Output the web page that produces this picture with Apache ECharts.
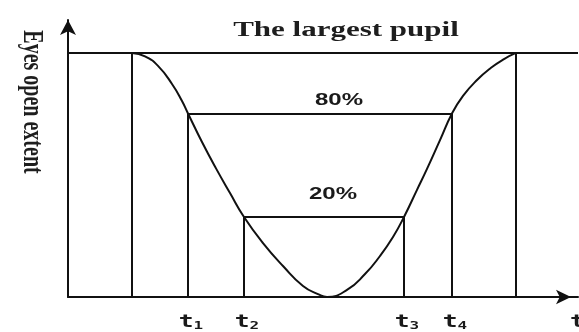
<!DOCTYPE html>
<html>
<head>
<meta charset="utf-8">
<title>Eyes open extent over one blink</title>
<script src="https://cdn.jsdelivr.net/npm/echarts@6/dist/echarts.min.js"></script>
<style>
  html, body { margin: 0; padding: 0; background: #ffffff; }
  #chart { width: 579px; height: 332px; }
</style>
</head>
<body>
<div id="chart"></div>
<script>
// Eye opening during one blink (time in arbitrary units, extent in % of the largest pupil)
const curveTime   = [64, 77, 90, 104, 114, 120, 134, 148, 162, 176, 195, 215, 235, 250, 259,
                     279, 297, 312, 325, 336, 349, 359, 372, 384, 395, 409, 423, 436, 448];
const curveExtent = [100, 98.6, 94.7, 87.3, 80.3, 75.2, 63.5, 52.7, 42.6, 32.8, 22.1, 12.7, 4.5, 1.2, 0,
                     2.9, 9.4, 16.8, 24.6, 32.8, 43.9, 52.5, 64.3, 75.2, 82.4, 88.9, 93.9, 97.5, 100];

// Moments where the eye is fully open (start and end of the blink)
const openTimes = [64, 448];
const peakExtent = 100;

// Threshold crossings
const tickNames = ['t1', 't2', 't3', 't4'];
const tickTimes = [120, 176, 336, 384];

// Threshold levels
const levelNames  = ['80%', '20%'];
const levelValues = [75.2, 32.8];

const titleText = 'The largest pupil';
const yName = 'Eyes open extent';
const xName = 't';

const xMax = 510;
const yMax = 113.5;
const ink = '#111111';

// Guide segments built from the named values above
const seg = (a, b) => [{ coord: a }, { coord: b }];
const guides = [
  seg([0, peakExtent], [xMax, peakExtent]),
  seg([openTimes[0], 0], [openTimes[0], peakExtent]),
  seg([openTimes[1], 0], [openTimes[1], peakExtent]),
  seg([tickTimes[0], levelValues[0]], [tickTimes[3], levelValues[0]]),
  seg([tickTimes[0], 0], [tickTimes[0], levelValues[0]]),
  seg([tickTimes[3], 0], [tickTimes[3], levelValues[0]]),
  seg([tickTimes[1], levelValues[1]], [tickTimes[2], levelValues[1]]),
  seg([tickTimes[1], 0], [tickTimes[1], levelValues[1]]),
  seg([tickTimes[2], 0], [tickTimes[2], levelValues[1]])
];

// Span of each level line (used to centre its label)
const levelSpans = [[tickTimes[0], tickTimes[3]], [tickTimes[1], tickTimes[2]]];

const chart = echarts.init(document.getElementById('chart'), null, { renderer: 'canvas' });

chart.setOption({
  animation: false,
  backgroundColor: '#ffffff',
  grid: { left: 68, right: 1, top: 20, bottom: 35 },
  xAxis: {
    type: 'value', min: 0, max: xMax,
    axisLine: { show: true, onZero: false, symbol: ['none', 'arrow'], symbolSize: [11, 15], symbolOffset: [0, -7],
                lineStyle: { color: ink, width: 2 } },
    axisTick: { show: false }, axisLabel: { show: false }, splitLine: { show: false }
  },
  yAxis: {
    type: 'value', min: 0, max: yMax,
    axisLine: { show: true, onZero: false, symbol: ['none', 'arrow'], symbolSize: [12, 15],
                lineStyle: { color: ink, width: 2 } },
    axisTick: { show: false }, axisLabel: { show: false }, splitLine: { show: false }
  },
  graphic: [
    {
      type: 'text', x: 346, y: 31, scaleX: 1.55, silent: true,
      style: { text: titleText, font: 'bold 20px "Liberation Serif"', fill: '#1e1e1e',
               align: 'center', verticalAlign: 'middle' }
    },
    {
      type: 'text', x: 31, y: 102, rotation: -Math.PI / 2, scaleY: 1.45, silent: true,
      style: { text: yName, font: 'bold 20px "Liberation Serif"', fill: '#1e1e1e',
               align: 'center', verticalAlign: 'middle' }
    }
  ],
  series: [
    {
      type: 'line', name: 'extent',
      data: curveTime.map((t, i) => [t, curveExtent[i]]),
      smooth: 0.5, showSymbol: false, silent: true, clip: false,
      lineStyle: { color: ink, width: 2 },
      markLine: {
        silent: true, symbol: ['none', 'none'], animation: false,
        label: { show: false },
        lineStyle: { color: ink, width: 2, type: 'solid' },
        emphasis: { disabled: true },
        data: guides
      }
    },
    {
      type: 'custom', name: 'level labels', silent: true, clip: false,
      data: levelValues.map((v, i) => [(levelSpans[i][0] + levelSpans[i][1]) / 2, v, i]),
      encode: { x: 0, y: 1 },
      renderItem: (params, api) => {
        const i = api.value(2);
        const p = api.coord([api.value(0), api.value(1)]);
        const dx = [19, 9][i], dy = [-13, -22][i];
        return {
          type: 'text', x: p[0] + dx, y: p[1] + dy, scaleX: 1.5,
          style: { text: levelNames[i], font: 'bold 16px "Liberation Sans"', fill: '#1a1a1a',
                   align: 'center', verticalAlign: 'middle' }
        };
      }
    },
    {
      type: 'custom', name: 'time labels', silent: true, clip: false,
      data: tickTimes.map((t, i) => [t, 0, i]).concat([[xMax, 0, -1]]),
      encode: { x: 0, y: 1 },
      renderItem: (params, api) => {
        const i = api.value(2);
        const p = api.coord([api.value(0), 0]);
        const name = i < 0 ? xName : tickNames[i];
        return {
          type: 'text',
          x: i < 0 ? p[0] - 8 : p[0] + 3,
          y: p[1] + 26, scaleX: 1.45,
          style: {
            text: '{a|' + name[0] + '}' + (name.length > 1 ? '{b|' + name.slice(1) + '}' : ''),
            align: i < 0 ? 'left' : 'center', verticalAlign: 'middle',
            rich: {
              a: { font: 'bold 17px "DejaVu Sans Mono"', fill: '#1a1a1a', verticalAlign: 'bottom', lineHeight: 17 },
              b: { font: 'bold 11px "DejaVu Sans Mono"', fill: '#1a1a1a', verticalAlign: 'bottom', lineHeight: 13 }
            }
          }
        };
      }
    }
  ]
});
</script>
</body>
</html>
